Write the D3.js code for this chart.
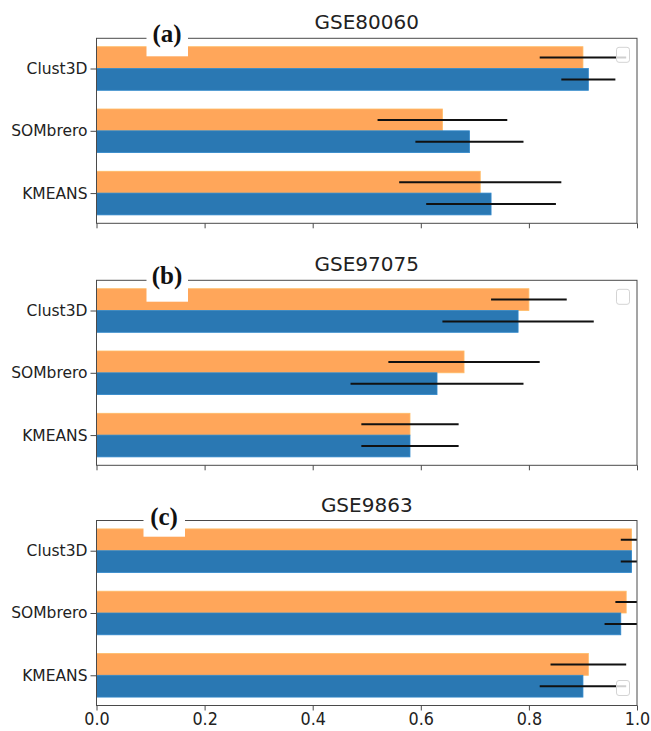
<!DOCTYPE html>
<html>
<head>
<meta charset="utf-8">
<script src="https://cdn.jsdelivr.net/npm/d3@7"></script>
<style>
  html, body { margin: 0; padding: 0; background: #fff; }
  svg { display: block; }
</style>
</head>
<body>
<svg id="chart" width="651" height="731"></svg>
<script>
// Methods, listed bottom-to-top on each panel
const methods = ["KMEANS", "SOMbrero", "Clust3D"];
const datasets = ["GSE80060", "GSE97075", "GSE9863"];
const panelLabels = ["(a)", "(b)", "(c)"];
const xTicks = [0.0, 0.2, 0.4, 0.6, 0.8, 1.0];

// Orange series (upper bar of each pair) — means and errors, ordered as methods
const orangeMeans = [
  [0.71, 0.64, 0.90],
  [0.58, 0.68, 0.80],
  [0.91, 0.98, 0.99]
];
const orangeErrs = [
  [0.15, 0.12, 0.08],
  [0.09, 0.14, 0.07],
  [0.07, 0.02, 0.02]
];
// Blue series (lower bar of each pair)
const blueMeans = [
  [0.73, 0.69, 0.91],
  [0.58, 0.63, 0.78],
  [0.90, 0.97, 0.99]
];
const blueErrs = [
  [0.12, 0.10, 0.05],
  [0.09, 0.16, 0.14],
  [0.08, 0.03, 0.02]
];

const svg = d3.select("#chart");
const orangeFill = "#ffa65a";
const blueFill = "#2a78b3";
const spineColor = "#4a4a4a";

const left = 96.5, right = 637;
const panelTops = [38.3, 280.3, 520.5];
const panelH = 185;
const barH = 0.35;

const x = d3.scaleLinear().domain([0, 1]).range([left, right]);

datasets.forEach((name, p) => {
  const top = panelTops[p], bottom = top + panelH;
  const y = d3.scaleLinear().domain([-0.485, 2.485]).range([bottom, top]);
  const g = svg.append("g");

  const clipId = "clip" + p;
  g.append("clipPath").attr("id", clipId)
    .append("rect").attr("x", left).attr("y", top)
    .attr("width", right - left).attr("height", panelH);

  const plot = g.append("g").attr("clip-path", `url(#${clipId})`);

  const series = [
    { means: orangeMeans[p], errs: orangeErrs[p], fill: orangeFill, off: barH / 2 },
    { means: blueMeans[p], errs: blueErrs[p], fill: blueFill, off: -barH / 2 }
  ];

  series.forEach(s => {
    plot.selectAll(null).data(methods).enter().append("rect")
      .attr("x", x(0))
      .attr("y", (d, i) => y(i + s.off + barH / 2))
      .attr("width", (d, i) => x(s.means[i]) - x(0))
      .attr("height", (d, i) => y(i + s.off - barH / 2) - y(i + s.off + barH / 2))
      .attr("fill", s.fill)
      .attr("stroke", d3.color(s.fill).brighter(0.35))
      .attr("stroke-width", 0.8);
  });

  series.forEach(s => {
    plot.selectAll(null).data(methods).enter().append("line")
      .attr("x1", (d, i) => x(s.means[i] - s.errs[i]))
      .attr("x2", (d, i) => x(s.means[i] + s.errs[i]))
      .attr("y1", (d, i) => y(i + s.off))
      .attr("y2", (d, i) => y(i + s.off))
      .attr("stroke", "#111")
      .attr("stroke-width", 2);
  });

  // frame
  g.append("rect")
    .attr("x", left).attr("y", top)
    .attr("width", right - left).attr("height", panelH)
    .attr("fill", "none").attr("stroke", spineColor).attr("stroke-width", 1);

  // y axis
  const yAxis = d3.axisLeft(y).tickValues([0, 1, 2])
    .tickFormat(i => methods[i]).tickSize(6).tickPadding(3);
  const ya = g.append("g").attr("transform", `translate(${left},0)`).call(yAxis);
  ya.select(".domain").remove();
  ya.selectAll(".tick line").attr("stroke", spineColor);
  ya.selectAll(".tick text")
    .attr("font-family", "DejaVu Sans, sans-serif")
    .attr("font-size", 15.5).attr("fill", "#222");

  // x axis (labels only on the bottom panel, drawn slightly tall)
  const xAxis = d3.axisBottom(x).tickValues(xTicks)
    .tickFormat(p === 2 ? d3.format(".1f") : "").tickSize(5).tickPadding(1.5);
  const xa = g.append("g").attr("transform", `translate(0,${bottom})`).call(xAxis);
  xa.select(".domain").remove();
  xa.selectAll(".tick line").attr("stroke", spineColor);
  xa.selectAll(".tick text")
    .attr("font-family", "DejaVu Sans, sans-serif")
    .attr("font-size", 16).attr("fill", "#222")
    .attr("transform", "scale(1,1.12)");

  // title
  g.append("text")
    .attr("x", (left + right) / 2).attr("y", top - 9)
    .attr("text-anchor", "middle")
    .attr("font-family", "DejaVu Sans, sans-serif")
    .attr("font-size", 20).attr("fill", "#222")
    .text(name);

  // empty legend frame
  const legY = p === 2 ? bottom - 25 : top + 9;
  g.append("rect")
    .attr("x", 616.5).attr("y", legY)
    .attr("width", 13).attr("height", 15).attr("rx", 2.5)
    .attr("fill", "rgba(255,255,255,0.8)")
    .attr("stroke", "#d4d4d4").attr("stroke-width", 1);

  // panel letter on a white tab
  const tabBottom = [56.3, 301.7, 536.7][p];
  g.append("rect")
    .attr("x", [146.5, 146.5, 143.5][p]).attr("y", top - 20)
    .attr("width", 41.5).attr("height", tabBottom - (top - 20))
    .attr("fill", "#fff");
  g.append("text")
    .attr("x", [167, 167, 164][p]).attr("y", top + 4)
    .attr("text-anchor", "middle")
    .attr("font-family", "Liberation Serif, Times New Roman, serif")
    .attr("font-weight", "bold")
    .attr("font-size", 25).attr("fill", "#111")
    .text(panelLabels[p]);
});
</script>
</body>
</html>
